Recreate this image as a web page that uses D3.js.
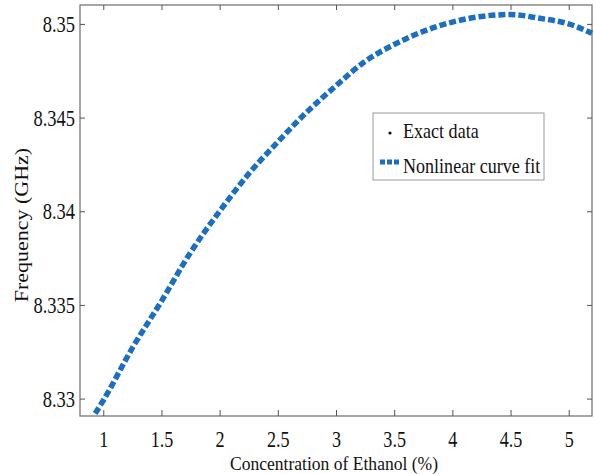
<!DOCTYPE html>
<html>
  <head>
    <meta charset="utf-8">
    <title>Frequency vs concentration of ethanol</title>
    <script src="https://d3js.org/d3.v7.min.js"></script>
    <style>
      body { margin: 0; background: #fff; }
      svg { display: block; }
      svg text { font-family: "Liberation Serif", "DejaVu Serif", serif !important; }
      .axis path { display: none; }
      .axis line { stroke: #555; }
    </style>
  </head>
  <body>
    <svg id="chart" width="596" height="474"></svg>
    <script>
      // values
      var concentration = [0.93, 1, 1.25, 1.5, 1.75, 2, 2.25, 2.5, 2.75, 3, 3.25, 3.5, 3.75, 4, 4.25, 4.5, 4.75, 5, 5.2];
      var frequency = [8.3292, 8.3299, 8.3327, 8.3352, 8.3378, 8.3400, 8.3420, 8.3437, 8.3453, 8.3467, 8.3480, 8.3489, 8.3496, 8.3501, 8.3504, 8.3505, 8.3503, 8.3500, 8.3495];
      var xTicks = [1, 1.5, 2, 2.5, 3, 3.5, 4, 4.5, 5];
      var yTicks = [8.33, 8.335, 8.34, 8.345, 8.35];
      var legendLabels = ["Exact data", "Nonlinear curve fit"];

      var serif = "Liberation Serif";
      var svg = d3.select("#chart");
      var margin = { top: 5, right: 4, bottom: 58, left: 80 };
      var width = 596, height = 474;
      var squeeze = 0.77;

      var x = d3.scaleLinear()
        .domain([0.8, 5.2])
        .range([margin.left, width - margin.right]);
      var y = d3.scaleLinear()
        .domain([8.32907, 8.35101])
        .range([height - margin.bottom, margin.top]);

      // box
      svg.append("rect")
        .attr("x", margin.left).attr("y", margin.top)
        .attr("width", width - margin.right - margin.left)
        .attr("height", height - margin.bottom - margin.top)
        .attr("fill", "none").attr("stroke", "#777").attr("stroke-width", 1.3);

      // axes with inward ticks
      var xAxis = svg.append("g").attr("class", "axis")
        .attr("transform", "translate(0," + (height - margin.bottom) + ")")
        .call(d3.axisBottom(x).tickValues(xTicks).tickSizeInner(-6).tickSizeOuter(0).tickFormat(d3.format("")));
      xAxis.attr("font-family", serif).attr("font-size", 23.5);
      xAxis.selectAll("text")
        .attr("y", 31).attr("dy", 0)
        .style("font-family", serif)
        .attr("fill", "#111")
        .attr("transform", "scale(" + squeeze + ",1)");

      var yAxis = svg.append("g").attr("class", "axis")
        .attr("transform", "translate(" + margin.left + ",0)")
        .call(d3.axisLeft(y).tickValues(yTicks).tickSizeInner(-5).tickSizeOuter(0).tickFormat(d3.format("")));
      yAxis.attr("font-family", serif).attr("font-size", 24);
      yAxis.selectAll("text")
        .attr("x", -5 / squeeze).attr("dy", "0.32em")
        .style("font-family", serif)
        .attr("fill", "#111")
        .attr("transform", "scale(" + squeeze + ",1)");

      svg.append("g").attr("class", "axis")
        .attr("transform", "translate(0," + margin.top + ")")
        .call(d3.axisTop(x).tickValues(xTicks).tickSizeInner(-5).tickSizeOuter(0).tickFormat(""));
      svg.append("g").attr("class", "axis")
        .attr("transform", "translate(" + (width - margin.right) + ",0)")
        .call(d3.axisRight(y).tickValues(yTicks).tickSizeInner(-5).tickSizeOuter(0).tickFormat(""));

      // fitted curve
      var line = d3.line()
        .x(function(d, i) { return x(concentration[i]); })
        .y(function(d) { return y(d); })
        .curve(d3.curveMonotoneX);
      svg.append("path")
        .datum(frequency)
        .attr("d", line)
        .attr("fill", "none")
        .attr("stroke", "#1b6ec2")
        .attr("stroke-width", 5.5)
        .attr("stroke-dasharray", "7,3");

      // axis titles
      svg.append("text")
        .attr("transform", "translate(334,470) scale(0.9,1)")
        .attr("text-anchor", "middle")
        .attr("font-size", 19.5)
        .attr("fill", "#111")
        .text("Concentration of Ethanol (%)");
      svg.append("text")
        .attr("transform", "translate(28,225) rotate(-90) scale(1,0.9)")
        .attr("text-anchor", "middle")
        .attr("font-size", 22)
        .attr("fill", "#111")
        .text("Frequency (GHz)");

      // legend
      var legend = svg.append("g").attr("transform", "translate(373,113)");
      legend.append("rect")
        .attr("width", 171).attr("height", 67)
        .attr("fill", "#fff").attr("stroke", "#999").attr("stroke-width", 1);
      legend.append("circle")
        .attr("cx", 17).attr("cy", 20).attr("r", 1.6).attr("fill", "#111");
      legend.append("line")
        .attr("x1", 7).attr("x2", 28).attr("y1", 49).attr("y2", 49)
        .attr("stroke", "#1b6ec2").attr("stroke-width", 5).attr("stroke-dasharray", "5,2");
      legend.selectAll(".label")
        .data(legendLabels)
        .enter().append("text")
          .attr("class", "label")
          .attr("transform", function(d, i) { return "translate(30," + (25 + i * 35) + ") scale(0.86,1)"; })
          .attr("font-size", 21)
          .attr("fill", "#111")
          .text(function(d) { return d; });
    </script>
  </body>
</html>
